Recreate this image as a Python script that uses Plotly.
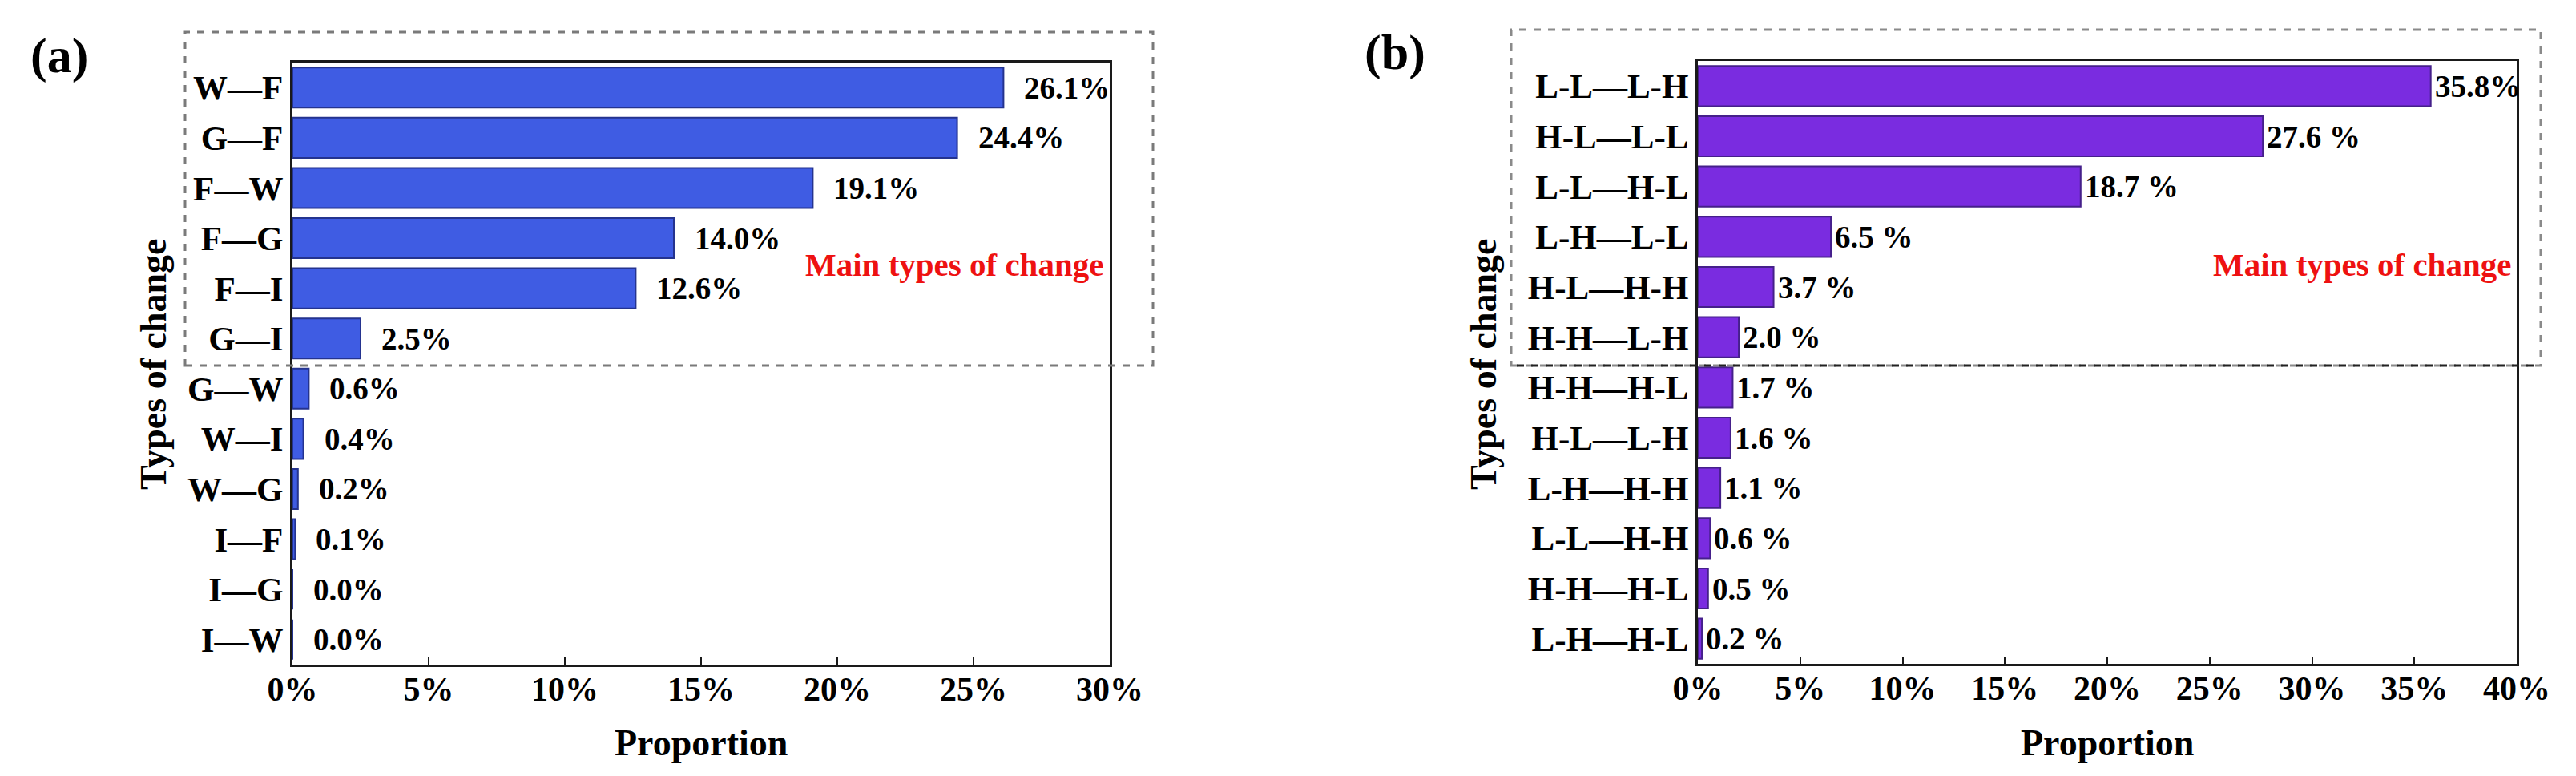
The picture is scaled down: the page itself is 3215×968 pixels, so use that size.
import plotly.graph_objects as go

W, H = 3215, 968

# ---------------- data ----------------
cats_a = ["W—F", "G—F", "F—W", "F—G", "F—I", "G—I",
          "G—W", "W—I", "W—G", "I—F", "I—G", "I—W"]
vals_a = [26.1, 24.4, 19.1, 14.0, 12.6, 2.5, 0.6, 0.4, 0.2, 0.1, 0.0, 0.0]
text_a = ["26.1%", "24.4%", "19.1%", "14.0%", "12.6%", "2.5%",
          "0.6%", "0.4%", "0.2%", "0.1%", "0.0%", "0.0%"]

cats_b = ["L-L—L-H", "H-L—L-L", "L-L—H-L", "L-H—L-L", "H-L—H-H", "H-H—L-H",
          "H-H—H-L", "H-L—L-H", "L-H—H-H", "L-L—H-H", "H-H—H-L", "L-H—H-L"]
vals_b = [35.8, 27.6, 18.7, 6.5, 3.7, 2.0, 1.7, 1.6, 1.1, 0.6, 0.5, 0.2]
text_b = ["35.8%", "27.6 %", "18.7 %", "6.5 %", "3.7 %", "2.0 %",
          "1.7 %", "1.6 %", "1.1 %", "0.6 %", "0.5 %", "0.2 %"]

xticks_a = [0, 5, 10, 15, 20, 25, 30]
xticks_b = [0, 5, 10, 15, 20, 25, 30, 35, 40]

FONT = "Liberation Serif, Times New Roman, serif"


def px(x):
    return x / W


def py(y):
    return 1 - y / H


pos_a = list(range(len(cats_a)))
pos_b = list(range(len(cats_b)))

fig = go.Figure()
fig.add_trace(go.Bar(
    x=vals_a, y=pos_a, orientation="h", width=0.8,
    marker=dict(color="#3f5ce3", line=dict(color="#24338f", width=2)),
    xaxis="x", yaxis="y", showlegend=False, hoverinfo="skip"))
fig.add_trace(go.Bar(
    x=vals_b, y=pos_b, orientation="h", width=0.8,
    marker=dict(color="#7a2ce0", line=dict(color="#45208a", width=2)),
    xaxis="x2", yaxis="y2", showlegend=False, hoverinfo="skip"))

annotations = []
for v, p, t in zip(vals_a, pos_a, text_a):
    annotations.append(dict(x=v, y=p, xref="x", yref="y", text=t, showarrow=False,
                            xanchor="left", yanchor="middle", xshift=24,
                            font=dict(family=FONT, size=39, color="black", weight="bold")))
for v, p, t in zip(vals_b, pos_b, text_b):
    annotations.append(dict(x=v, y=p, xref="x2", yref="y2", text=t, showarrow=False,
                            xanchor="left", yanchor="middle", xshift=3,
                            font=dict(family=FONT, size=39, color="black", weight="bold")))

# panel labels
annotations.append(dict(x=px(66), y=py(62), xref="paper", yref="paper", text="(a)",
                        showarrow=False, xanchor="center", yanchor="middle",
                        font=dict(family=FONT, size=62, color="black", weight="bold")))
annotations.append(dict(x=px(1733), y=py(58), xref="paper", yref="paper", text="(b)",
                        showarrow=False, xanchor="center", yanchor="middle",
                        font=dict(family=FONT, size=62, color="black", weight="bold")))
# axis titles
for xc in (867, 2622):
    annotations.append(dict(x=px(xc), y=py(918), xref="paper", yref="paper", text="Proportion",
                            showarrow=False, xanchor="center", yanchor="middle",
                            font=dict(family=FONT, size=46, color="black", weight="bold")))
for xc in (183, 1843):
    annotations.append(dict(x=px(xc), y=py(446), xref="paper", yref="paper", text="Types of change",
                            showarrow=False, xanchor="center", yanchor="middle", textangle=-90,
                            font=dict(family=FONT, size=46, color="black", weight="bold")))
# red notes
for xr in (1371, 3128):
    annotations.append(dict(x=px(xr), y=py(322), xref="paper", yref="paper",
                            text="Main types of change", showarrow=False,
                            xanchor="right", yanchor="middle",
                            font=dict(family=FONT, size=41, color="#ee1111", weight="bold")))

shapes = [
    dict(type="rect", xref="paper", yref="paper", x0=px(223), x1=px(1431), y0=py(448), y1=py(32),
         line=dict(color="#7a7a7a", width=3, dash="dash")),
    dict(type="rect", xref="paper", yref="paper", x0=px(1878), x1=px(3163), y0=py(448), y1=py(29),
         line=dict(color="#8a8a8a", width=3, dash="dash")),
    dict(type="line", xref="paper", yref="paper", x0=px(1885), x1=px(3163), y0=py(448), y1=py(448),
         line=dict(color="#222222", width=3, dash="dash")),
]

xaxis_common = dict(showgrid=False, zeroline=False, showline=True, mirror=True,
                    linecolor="#1a1a1a", linewidth=3, ticks="inside", ticklen=9,
                    tickwidth=2, tickcolor="#1a1a1a", ticklabelstandoff=-8,
                    tickfont=dict(family=FONT, size=42, color="black", weight="bold"),
                    automargin=False, fixedrange=True)
yaxis_common = dict(showgrid=False, zeroline=False, showline=True, mirror=True,
                    linecolor="#1a1a1a", linewidth=3, ticks="",
                    tickfont=dict(family=FONT, size=43, color="black", weight="bold"),
                    automargin=False, fixedrange=True, range=[11.5, -0.5])

fig.update_layout(
    width=W, height=H,
    margin=dict(l=0, r=0, t=0, b=0),
    paper_bgcolor="white", plot_bgcolor="white",
    bargap=0.2,
    xaxis=dict(xaxis_common, domain=[px(357), px(1377)], range=[0, 30],
               tickvals=xticks_a, ticktext=[f"{v}%" for v in xticks_a], anchor="y"),
    yaxis=dict(yaxis_common, domain=[py(821), py(70)], tickvals=pos_a, ticktext=cats_a,
               anchor="x"),
    xaxis2=dict(xaxis_common, domain=[px(2111), px(3133)], range=[0, 40],
                tickvals=xticks_b, ticktext=[f"{v}%" for v in xticks_b], anchor="y2"),
    yaxis2=dict(yaxis_common, domain=[py(820), py(68)], tickvals=pos_b, ticktext=cats_b,
                anchor="x2"),
    annotations=annotations,
    shapes=shapes,
)

fig.write_html("out.html")
